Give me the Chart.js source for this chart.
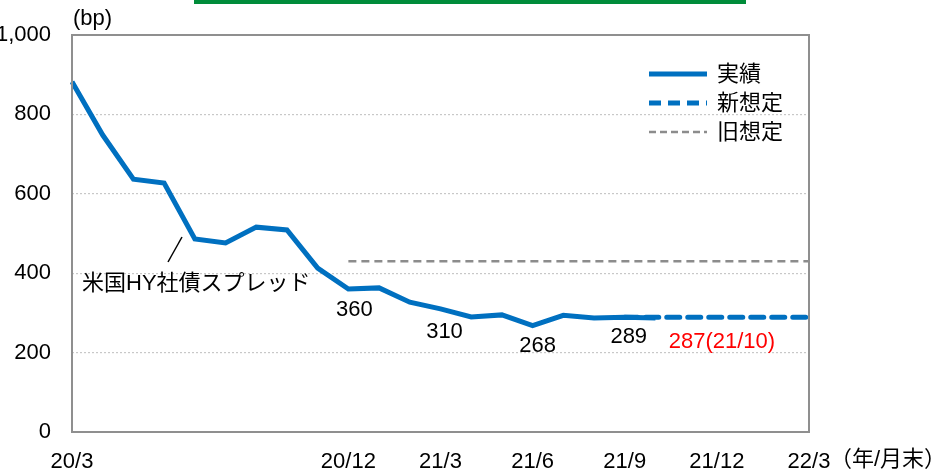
<!DOCTYPE html>
<html>
<head>
<meta charset="utf-8">
<script src="https://cdn.jsdelivr.net/npm/chart.js@4"></script>
<style>
  body { margin: 0; background: #fff; }
  #wrap { width: 949px; height: 473px; }
</style>
</head>
<body>
<div id="wrap"><canvas id="spread"></canvas></div>
<script>
// 月末ラベル (20/3 - 22/3)
const months = ['20/3','20/4','20/5','20/6','20/7','20/8','20/9','20/10','20/11','20/12',
  '21/1','21/2','21/3','21/4','21/5','21/6','21/7','21/8','21/9','21/10','21/11','21/12',
  '22/1','22/2','22/3'];
const shownTicks = ['20/3','20/12','21/3','21/6','21/9','21/12','22/3'];
const yTicks = [0, 200, 400, 600, 800, 1000];

// 実績
const actual = [882, 748, 637, 627, 486, 476, 516, 509, 413, 360,
  363, 327, 310, 290, 295, 268, 294, 287, 289, 287,
  null, null, null, null, null];
// 新想定
const newPlan = [null, null, null, null, null, null, null, null, null, null,
  null, null, null, null, null, null, null, null, 289, 289,
  289, 289, 289, 289, 289];
// 旧想定
const oldPlan = [null, null, null, null, null, null, null, null, null, 430,
  430, 430, 430, 430, 430, 430, 430, 430, 430, 430,
  430, 430, 430, 430, 430];

// 数値ラベル
const pointNotes = [
  { month: '20/12', value: 360, text: '360', dx: 6, dy: 21, color: '#000' },
  { month: '21/3', value: 310, text: '310', dx: 4, dy: 23, color: '#000' },
  { month: '21/6', value: 268, text: '268', dx: 5, dy: 20, color: '#000' },
  { month: '21/9', value: 289, text: '289', dx: 4, dy: 20, color: '#000' },
  { month: '21/12', value: 289, text: '287(21/10)', dx: 5, dy: 25, color: '#ff0000' }
];

const FONT = "Arial, 'Liberation Sans', 'Noto Sans CJK JP', sans-serif";
const BLUE = '#0070c0';
const GREY = '#8c8c8c';

const extras = {
  id: 'extras',
  afterDatasetsDraw(chart) {
    const c = chart.ctx, a = chart.chartArea;
    const x = chart.scales.x, y = chart.scales.y;
    c.save();
    // 枠
    c.strokeStyle = '#8f8f8f';
    c.lineWidth = 2;
    c.strokeRect(a.left, a.top, a.right - a.left, a.bottom - a.top);

    // 上部の緑帯
    c.fillStyle = '#008c3a';
    c.fillRect(194, 0, 552, 4);

    c.font = '22px ' + FONT;
    c.textBaseline = 'middle';
    c.fillStyle = '#000';
    c.textAlign = 'left';
    c.fillText('(bp)', 73, 19);
    c.fillText('（年/月末）', a.right + 21, 460);

    // 数値ラベル
    c.textAlign = 'center';
    pointNotes.forEach(n => {
      c.fillStyle = n.color;
      c.fillText(n.text, x.getPixelForValue(months.indexOf(n.month)) + n.dx,
        y.getPixelForValue(n.value) + n.dy);
    });

    // 系列名と引き出し線
    c.fillStyle = '#000';
    c.textAlign = 'left';
    c.fillText('米国HY社債スプレッド', 82, 284);
    c.strokeStyle = '#000';
    c.lineWidth = 1.5;
    c.beginPath();
    c.moveTo(168, 262);
    c.lineTo(182, 237);
    c.stroke();

    // 凡例
    const items = [
      { label: '実績', color: BLUE, width: 5, dash: [] },
      { label: '新想定', color: BLUE, width: 5, dash: [12, 7] },
      { label: '旧想定', color: GREY, width: 2.5, dash: [7, 4] }
    ];
    items.forEach((it, i) => {
      const ly = 74 + i * 29;
      c.strokeStyle = it.color;
      c.lineWidth = it.width;
      c.setLineDash(it.dash);
      c.lineCap = 'butt';
      c.beginPath();
      c.moveTo(649, ly);
      c.lineTo(707, ly);
      c.stroke();
      c.setLineDash([]);
      c.fillStyle = '#000';
      c.fillText(it.label, 717, ly + 1);
    });
    c.restore();
  }
};

new Chart(document.getElementById('spread'), {
  type: 'line',
  data: {
    labels: months,
    datasets: [
      { label: '旧想定', data: oldPlan, borderColor: GREY, borderWidth: 2.5,
        borderDash: [8, 5], pointRadius: 0, tension: 0, spanGaps: false },
      { label: '新想定', data: newPlan, borderColor: BLUE, borderWidth: 5,
        borderDash: [13, 8], borderCapStyle: 'round', pointRadius: 0, tension: 0 },
      { label: '実績', data: actual, borderColor: BLUE, borderWidth: 5,
        borderJoinStyle: 'miter', pointRadius: 0, tension: 0 }
    ]
  },
  options: {
    responsive: true,
    maintainAspectRatio: false,
    animation: false,
    layout: { padding: { top: 35, right: 140, left: 0, bottom: 0 } },
    plugins: { legend: { display: false }, tooltip: { enabled: false } },
    scales: {
      x: {
        offset: false,
        grid: { display: false, drawTicks: false },
        border: { display: false },
        afterFit(s) { s.height = 41; },
        ticks: {
          autoSkip: false, maxRotation: 0, padding: 17, color: '#000',
          font: { size: 22, family: FONT },
          callback(v, i) { return shownTicks.includes(months[i]) ? months[i] : ''; }
        }
      },
      y: {
        min: 0, max: 1000,
        afterFit(s) { s.width = 72; },
        afterBuildTicks(s) { s.ticks = yTicks.map(v => ({ value: v })); },
        grid: {
          drawTicks: false,
          color: ctx => (ctx.tick.value === 0 || ctx.tick.value === 1000) ? 'rgba(0,0,0,0)' : '#c8c8c8',
          lineWidth: 1.2
        },
        border: { display: false, dash: [2, 2] },
        ticks: {
          padding: 21, color: '#000',
          font: { size: 22, family: FONT },
          callback: v => v.toLocaleString('en-US')
        }
      }
    }
  },
  plugins: [extras]
});
</script>
</body>
</html>
